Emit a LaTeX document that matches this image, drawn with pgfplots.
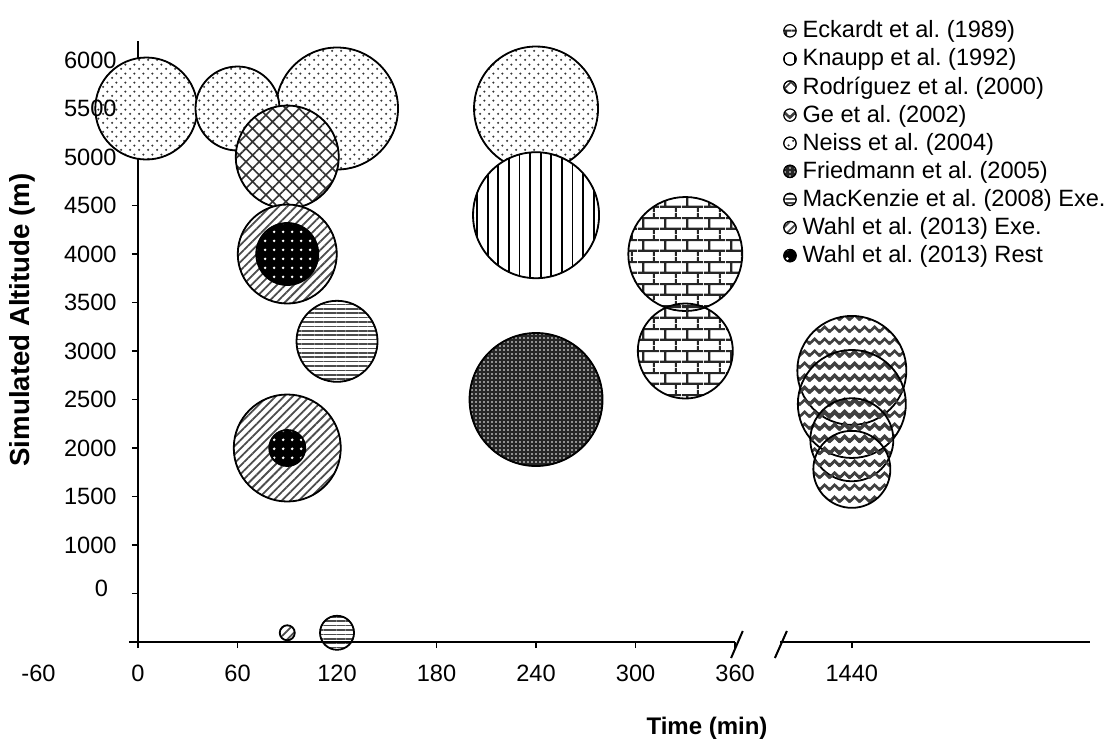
\documentclass[border=0pt]{standalone}
\usepackage{fontspec}
\setmainfont{Liberation Sans}
\usepackage{pgfplots}
\pgfplotsset{compat=1.18}
\usetikzlibrary{patterns,patterns.meta}

\pgfdeclareplotmark{nothing}{}

\tikzdeclarepattern{name=ndots, type=uncolored,
  bottom left={(0pt,0pt)}, top right={(4.6pt,4.6pt)}, tile size={(4.6pt,4.6pt)},
  code={\fill (1.15pt,1.15pt) circle[radius=0.65pt] (3.45pt,3.45pt) circle[radius=0.65pt];}}
\tikzdeclarepattern{name=bdots, type=uncolored,
  bottom left={(0pt,0pt)}, top right={(2.2pt,2.2pt)}, tile size={(2.2pt,2.2pt)},
  code={\fill (1.1pt,1.1pt) circle[radius=0.5pt];}}
\tikzdeclarepattern{name=rdots, type=uncolored,
  bottom left={(0pt,0pt)}, top right={(4.5pt,4.5pt)}, tile size={(4.5pt,4.5pt)},
  code={\fill (2.25pt,2.25pt) circle[radius=0.8pt];}}
\tikzdeclarepattern{name=bricksx, type=uncolored,
  bottom left={(0pt,0pt)}, top right={(11pt,11pt)}, tile size={(11pt,11pt)},
  code={\draw[line width=1.1pt] (0pt,2.75pt)--(11pt,2.75pt) (0pt,8.25pt)--(11pt,8.25pt)
        (2.75pt,2.75pt)--(2.75pt,8.25pt) (8.25pt,8.25pt)--(8.25pt,11pt) (8.25pt,0pt)--(8.25pt,2.75pt);}}
\tikzdeclarepattern{name=zigzag, type=uncolored,
  bottom left={(0pt,0pt)}, top right={(5pt,6.2pt)}, tile size={(5pt,6.2pt)},
  code={\draw[line width=1.4pt] (-2.5pt,4.2pt)--(0pt,1.9pt)--(2.5pt,4.2pt)--(5pt,1.9pt)--(7.5pt,4.2pt);}}

\tikzset{
  pNeiss/.style={preaction={fill=white}, pattern=ndots, pattern color=black!80},
  pRod/.style={preaction={fill=white}, pattern={Hatch[angle=45,distance=4.7pt,line width=0.8pt]}, pattern color=black!80},
  pKnaupp/.style={preaction={fill=white}, pattern={Lines[angle=90,distance=5.3pt,line width=0.9pt]}, pattern color=black},
  pEck/.style={pattern=bricksx, pattern color=black!85},
  pGe/.style={pattern=zigzag, pattern color=black!75},
  pFried/.style={preaction={fill=black!85}, pattern=bdots, pattern color=white},
  pMac/.style={preaction={fill=white}, pattern={Lines[angle=0,distance=2.2pt,line width=0.8pt]}, pattern color=black!70},
  pWExe/.style={preaction={fill=white}, pattern={Lines[angle=45,distance=3pt,line width=0.9pt]}, pattern color=black!70},
  pWRest/.style={preaction={fill=black}, pattern=rdots, pattern color=white},
}

\pgfplotsset{
  bubble/.style={only marks, scatter, mark=nothing, forget plot,
    visualization depends on={value \thisrow{r}\as\rr},
    scatter/@pre marker code/.code={\path[draw=black, line width=0.9pt, #1] (0,0) circle[radius=\rr pt];},
    scatter/@post marker code/.code={}},
  legimg/.style={legend image code/.code={\path[draw=black, line width=0.6pt, #1] (3pt,0pt) circle[radius=3.1pt];}},
  common/.style={scale only axis, width=476pt, height=300.7pt,
    x coord trafo/.code={\pgfmathparse{##1>1000 ? ##1-1009.6 : ##1}},
    xmin=0, xmax=1583.6, ymin=0, ymax=6200},
  layers/mine/.define layer set={axis background,axis grid,axis ticks,axis lines,main,axis tick labels,axis descriptions,axis foreground}{
    grid style={/pgfplots/on layer=axis grid},
    tick style={/pgfplots/on layer=axis ticks},
    axis line style={/pgfplots/on layer=axis lines},
    label style={/pgfplots/on layer=axis descriptions},
    legend style={/pgfplots/on layer=axis descriptions},
    title style={/pgfplots/on layer=axis descriptions},
    colorbar style={/pgfplots/on layer=axis descriptions},
    ticklabel style={/pgfplots/on layer=axis tick labels},
    axis background@ style={/pgfplots/on layer=axis background},
    3d box foreground style={/pgfplots/on layer=axis foreground},
  },
}

\newcommand{\tf}{\fontsize{11.8}{14}\selectfont}
\frenchspacing

\begin{document}
\begin{tikzpicture}
% sea-level bubble, clipped at the axis
\begin{axis}[common, clip=true, axis line style={draw=none}, xtick=\empty, ytick=\empty]
\addplot[bubble=pMac] table {
x y r
120 95 8.5
};
\end{axis}
\begin{axis}[common, set layers=mine, clip=false,
  axis lines=left, axis line style={-, line width=0.85pt}, x axis line style={draw=none},
  tick align=outside, major tick length=3pt, tick style={black, line width=0.85pt},
  xtick={0,60,120,180,240,300,360,1440},
  xticklabels={0,60,120,180,240,300,360,1440},
  ytick={0,1000,1500,2000,2500,3000,3500,4000,4500,5000,5500,6000},
  yticklabels={,1000,1500,2000,2500,3000,3500,4000,4500,5000,5500,6000},
  extra y ticks={500}, extra y tick labels={0},
  extra y tick style={yticklabel style={xshift=-4.3pt, yshift=2.5pt}},
  tick label style={font=\tf},
  xticklabel style={anchor=north, inner sep=0pt, yshift=-8.5pt},
  yticklabel style={anchor=east, inner sep=0pt, xshift=-7.5pt},
  xlabel={Time (min)}, ylabel={Simulated Altitude (m)},
  xlabel style={at={(axis description cs:0.5977,-0.1546)}, anchor=base, font=\bfseries\fontsize{12}{14}\selectfont},
  ylabel style={at={(axis description cs:-0.1218,0.5354)}, anchor=center, font=\bfseries\fontsize{13.8}{16}\selectfont},
  legend style={draw=none, fill=none, inner sep=0pt, outer sep=0pt, at={(0.6777,1.0396)}, anchor=north west,
    font=\tf, row sep=0pt, nodes={inner sep=0.4pt, text height=10.1pt, text depth=3.15pt},
    /tikz/every odd column/.append style={column sep=2.5pt}},
  legend cell align=left,
]
% Neiss et al. (2004)
\addplot[bubble=pNeiss] table {
x y r
240 5500 31
120 5500 30.5
5 5500 25.5
60 5500 21
};
% Rodriguez et al. (2000)
\addplot[bubble=pRod] table {
x y r
90 5000 25.75
};
% Knaupp et al. (1992)
\addplot[bubble=pKnaupp] table {
x y r
240 4400 31.5
};
% Eckardt et al. (1989)
\addplot[bubble=pEck] table {
x y r
330 4000 28.5
330 3000 23.75
};
% Ge et al. (2002)
\addplot[bubble=pGe] table {
x y r
1440 2800 27.25
1440 2454 27
1440 2085 20.75
1440 1780 19.25
};
% Friedmann et al. (2005)
\addplot[bubble=pFried] table {
x y r
240 2500 33.25
};
% MacKenzie et al. (2008) Exe.
\addplot[bubble=pMac] table {
x y r
120 3100 20.25
};
% Wahl et al. (2013) Exe.
\addplot[bubble=pWExe] table {
x y r
90 4000 24.75
90 2000 26.75
90 95 3.75
};
% Wahl et al. (2013) Rest
\addplot[bubble=pWRest] table {
x y r
90 4000 15.5
90 2000 9
};
\addlegendimage{legimg=pEck}\addlegendentry{Eckardt et al. (1989)}
\addlegendimage{legimg=pKnaupp}\addlegendentry{Knaupp et al. (1992)}
\addlegendimage{legimg=pRod}\addlegendentry{Rodríguez et al. (2000)}
\addlegendimage{legimg=pGe}\addlegendentry{Ge et al. (2002)}
\addlegendimage{legimg=pNeiss}\addlegendentry{Neiss et al. (2004)}
\addlegendimage{legimg=pFried}\addlegendentry{Friedmann et al. (2005)}
\addlegendimage{legimg=pMac}\addlegendentry{MacKenzie et al. (2008) Exe.}
\addlegendimage{legimg=pWExe}\addlegendentry{Wahl et al. (2013) Exe.}
\addlegendimage{legimg=pWRest}\addlegendentry{Wahl et al. (2013) Rest}
% broken x axis
\draw[line width=0.85pt] ([xshift=-4.5pt]axis cs:0,0) -- (axis cs:360,0);
\draw[line width=0.85pt] (axis cs:1396.8,0) -- (axis cs:1583.6,0);
\draw[line width=1pt] ([xshift=-2pt,yshift=-8pt]axis cs:360,0) -- ([xshift=3.85pt,yshift=5.5pt]axis cs:360,0);
\draw[line width=1pt] ([xshift=-2.65pt,yshift=-8pt]axis cs:1396.8,0) -- ([xshift=3.35pt,yshift=5.5pt]axis cs:1396.8,0);
\node[anchor=north, inner sep=0pt, font=\tf] at ([yshift=-11.5pt]axis cs:-60,0) {-60};
\end{axis}
\pgfresetboundingbox
\useasboundingbox (-69pt,-49pt) rectangle (485pt,321pt);
\end{tikzpicture}
\end{document}
